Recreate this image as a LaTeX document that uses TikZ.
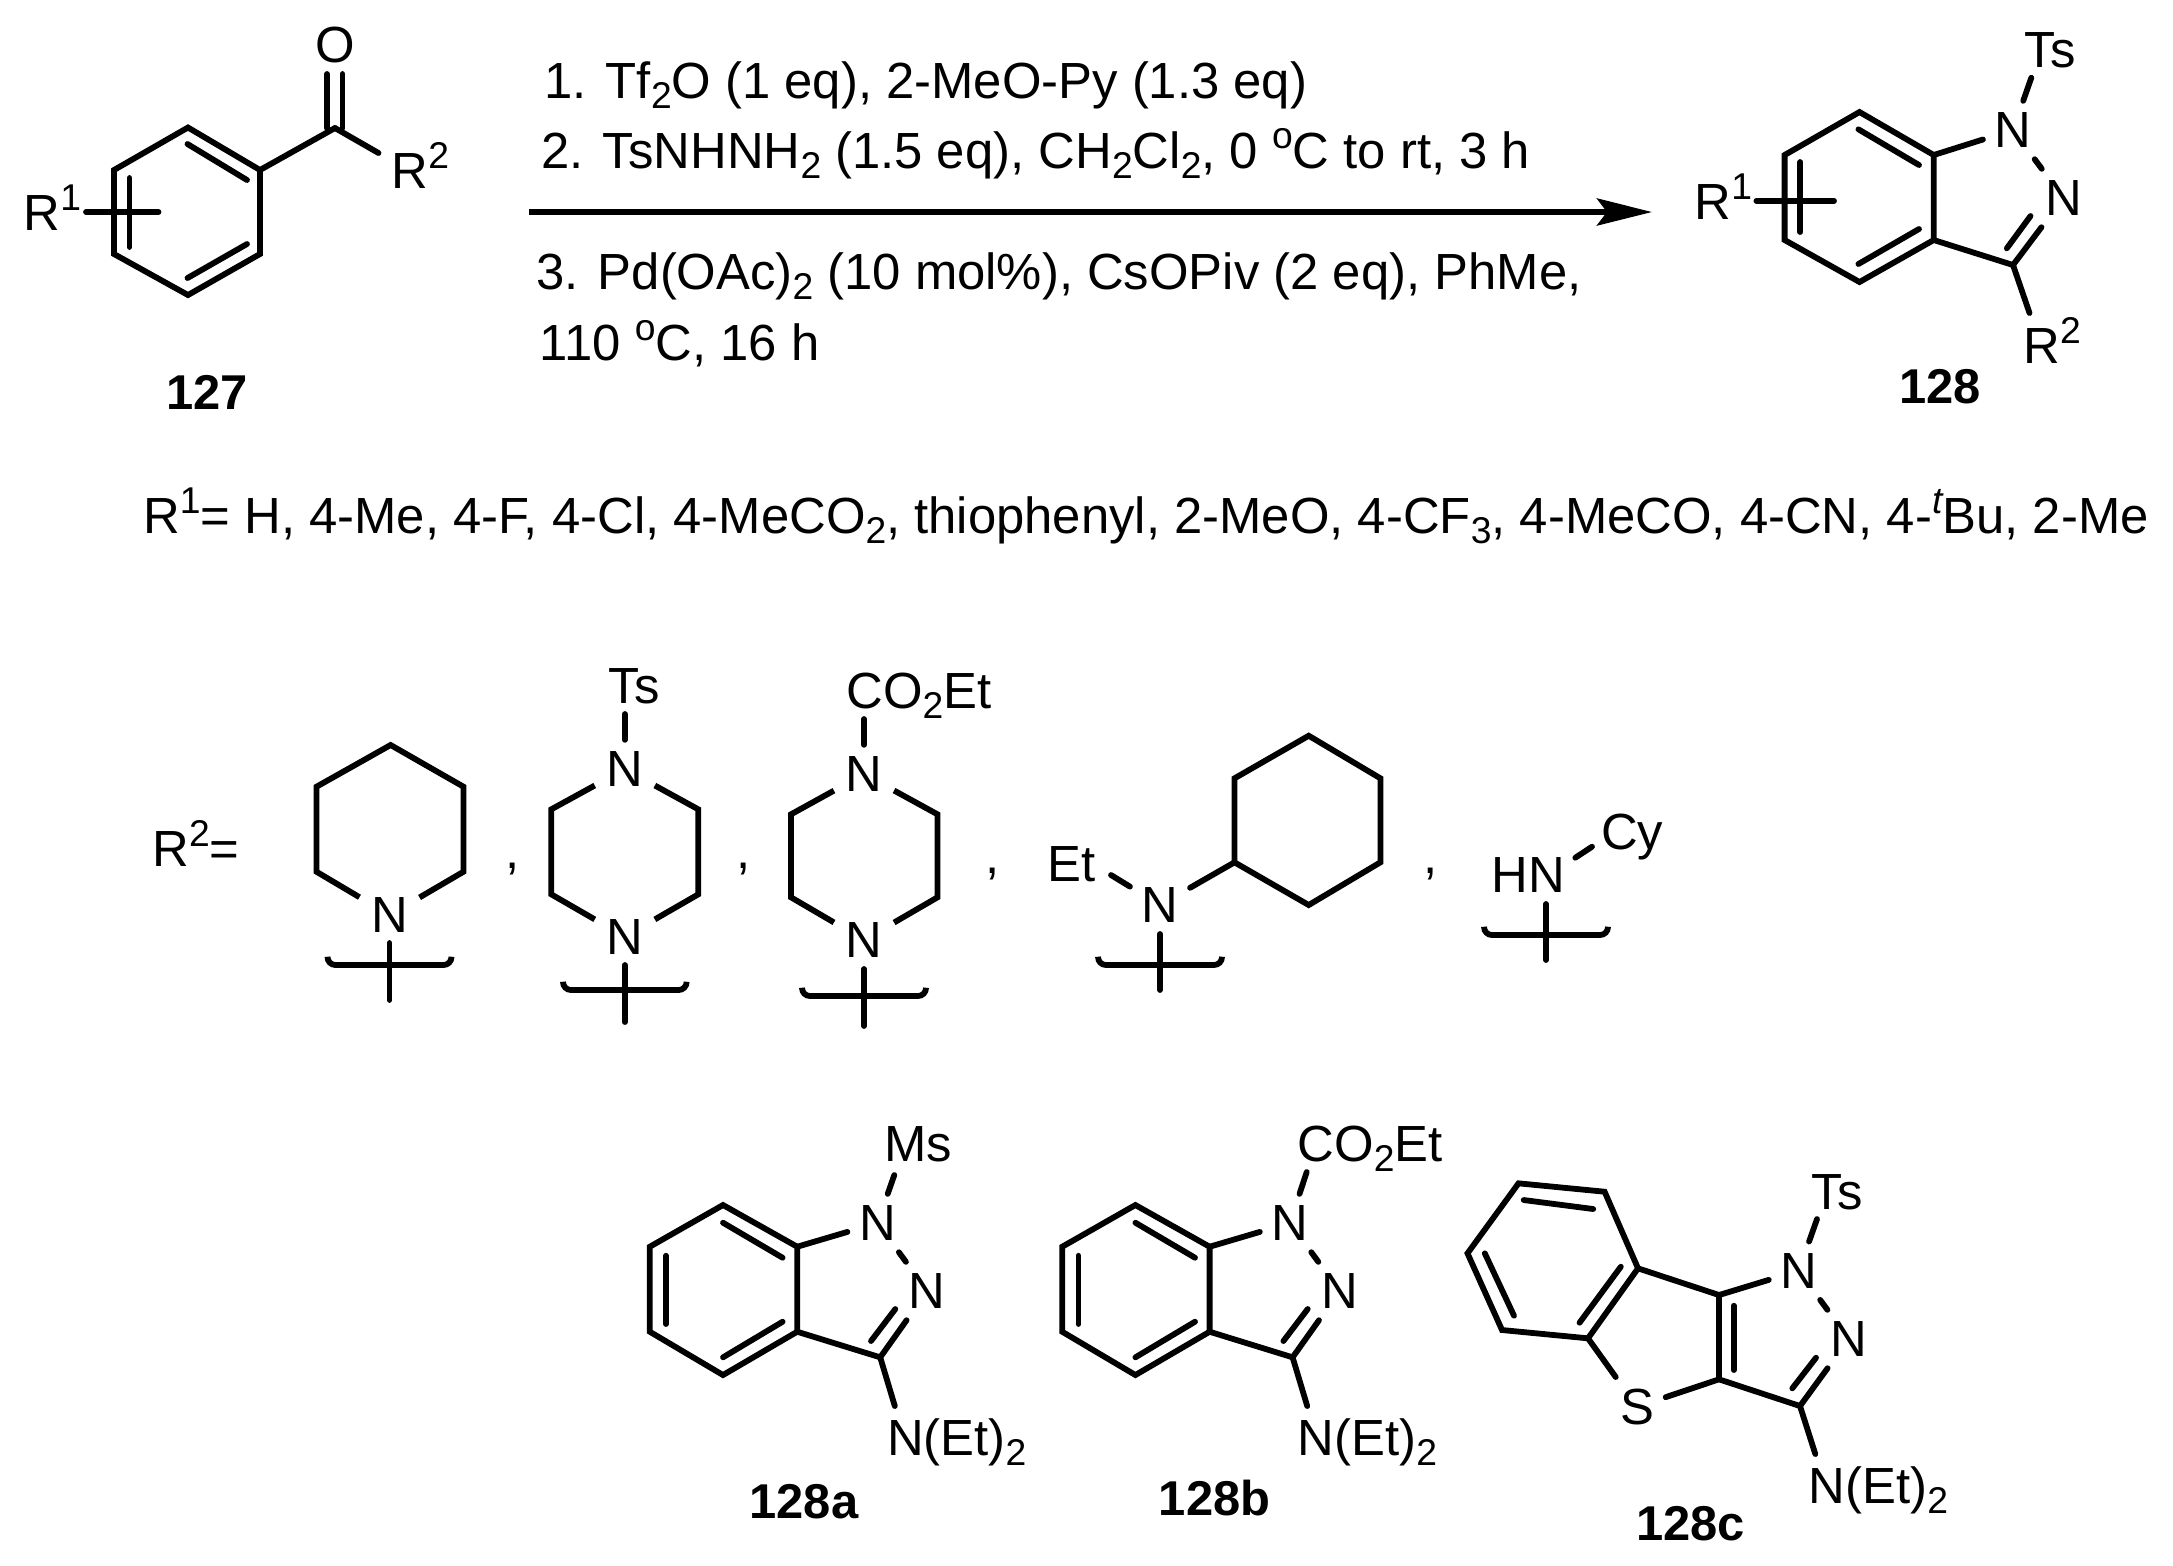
\documentclass[tikz,border=0pt]{standalone}
\usepackage{fontspec}
\setmainfont{Liberation Sans}
\usepackage{tikz}
\usetikzlibrary{arrows.meta}

\newcommand{\supr}[1]{\raisebox{0.2cm}{\fontsize{10.6}{10}\selectfont #1}}
\newcommand{\subr}[1]{\raisebox{-0.1cm}{\fontsize{10.6}{10}\selectfont #1}}

\begin{document}
\begin{tikzpicture}[
    x=0.01cm, y=-0.01cm,
    font=\fontsize{14.45}{16}\selectfont,
    bond/.style={line width=0.058cm, line join=miter, line cap=round},
    ringbond/.style={bond, line cap=butt},
    wavy/.style={bond, rounded corners=0.08cm},
    atom/.style={inner sep=0.11cm},
    chemtext/.style={inner sep=0pt, anchor=base west, xshift=-0.03cm},
    cmpd/.style={inner sep=0pt, font=\fontsize{13.9}{16}\selectfont\bfseries},
]
\useasboundingbox (0,0) rectangle (2173,1565);

% ── Ketone 127 ──
\coordinate (ka) at (188,127.5);
\coordinate (kb) at (260,170);
\coordinate (kc) at (260,254);
\coordinate (kd) at (188,295);
\coordinate (ke) at (114,254);
\coordinate (kf) at (114,170);
\coordinate (kco) at (335,128);
\draw[ringbond] (ka) -- (kb) -- (kc) -- (kd) -- (ke) -- (kf) -- cycle;
\coordinate (kab) at (187.5,144);
\coordinate (kab2) at (247,180);
\coordinate (kcd) at (247,244);
\coordinate (kcd2) at (187.5,278);
\draw[bond] (kab) -- (kab2);
\draw[bond] (kcd) -- (kcd2);
\coordinate (kef) at (129.5,178);
\coordinate (kef2) at (129.5,247);
\draw[bond] (kef) -- (kef2);
\coordinate (kr) at (86,212);
\coordinate (kr2) at (158.5,212);
\draw[bond] (kr) -- (kr2);
\draw[bond] (kb) -- (kco);
\coordinate (kcoa) at (327,128);
\coordinate (kcoa2) at (327,74);
\coordinate (kcob) at (342.5,128);
\coordinate (kcob2) at (342.5,74);
\draw[bond] (kcoa) -- (kcoa2);
\draw[bond] (kcob) -- (kcob2);
\coordinate (krtwo) at (378.5,153);
\draw[bond] (kco) -- (krtwo);
\node[inner sep=0pt] (koxy) at (335,45) {O};
\node[chemtext] (krtwolabel) at (394,188) {R\supr{2}};
\node[chemtext] (kronelabel) at (26,230) {R\supr{1}};
\node[cmpd] (lab127) at (207,392) {127};

% ── Reaction conditions ──
\node[chemtext] (stepone) at (547,98) {1. Tf\subr{2}O (1 eq), 2-MeO-Py (1.3 eq)};
\node[chemtext] (steptwo) at (544,168) {2. TsNHNH\subr{2} (1.5 eq), CH\subr{2}Cl\subr{2}, 0 \supr{o}C to rt, 3 h};
\node[chemtext] (stepthree) at (539,289) {3. Pd(OAc)\subr{2} (10 mol\%), CsOPiv (2 eq), PhMe,};
\node[chemtext] (stepfour) at (542,360) {110 \supr{o}C, 16 h};
\coordinate (arrowstart) at (529,212);
\coordinate (arrowend) at (1652,212);
\draw[-{Stealth[length=0.55cm,width=0.27cm,inset=0.1cm]}, line width=0.058cm] (arrowstart) -- (arrowend);

% ── Indazole 128 ──
\coordinate (ia) at (1859.5,112);
\coordinate (ib) at (1933.7,155);
\coordinate (ic) at (1933.7,240);
\coordinate (id) at (1859.5,282);
\coordinate (ie) at (1784.6,240);
\coordinate (if) at (1784.6,155);
\coordinate (ithree) at (2013,265);
\draw[ringbond] (ia) -- (ib) -- (ic) -- (id) -- (ie) -- (if) -- cycle;
\coordinate (iab) at (1858.4,129.3);
\coordinate (iab2) at (1919,165);
\coordinate (icd) at (1919,229);
\coordinate (icd2) at (1858.4,264);
\coordinate (ief) at (1800.3,162);
\coordinate (ief2) at (1800.3,232);
\draw[bond] (iab) -- (iab2);
\draw[bond] (icd) -- (icd2);
\draw[bond] (ief) -- (ief2);
\coordinate (ir) at (1756.4,200.7);
\coordinate (ir2) at (1834,200.7);
\draw[bond] (ir) -- (ir2);
\node[atom] (inone) at (2013,130) {N};
\node[atom] (intwo) at (2063.4,198) {N};
\draw[bond] (ib) -- (inone);
\draw[bond] (inone) -- (intwo);
\draw[bond] (ic) -- (ithree);
\draw[bond] (ithree) -- (intwo);
\coordinate (idb) at (2006.8,248.3);
\coordinate (idb2) at (2030.5,216);
\draw[bond] (idb) -- (idb2);
\coordinate (its) at (2031.3,77.7);
\draw[bond] (inone) -- (its);
\node[chemtext] (itslabel) at (2027,67.7) {Ts};
\coordinate (irtwo) at (2029.5,313);
\draw[bond] (ithree) -- (irtwo);
\node[chemtext] (irtwolabel) at (2025.8,363) {R\supr{2}};
\node[chemtext] (ironelabel) at (1697,219) {R\supr{1}};
\node[cmpd] (lab128) at (1940,387) {128};

% ── R1 list ──
\node[chemtext] (rone) at (145.5,533) {R\supr{1}= H, 4-Me, 4-F, 4-Cl, 4-MeCO\subr{2}, thiophenyl, 2-MeO, 4-CF\subr{3}, 4-MeCO, 4-CN, 4-\supr{\itshape t}Bu, 2-Me};

% ── R2 row ──
\node[chemtext] (rtwo) at (154.7,866) {R\supr{2}=};

% piperidine
\coordinate (pa) at (390.6,745);
\coordinate (pb) at (463.5,786.7);
\coordinate (pc) at (463.5,871.7);
\coordinate (pe) at (316.5,871.7);
\coordinate (pf) at (316.5,786.7);
\node[atom] (pn) at (389.5,915) {N};
\draw[ringbond] (pn) -- (pc) -- (pb) -- (pa) -- (pf) -- (pe) -- (pn);
\coordinate (ptop) at (389.5,943);
\coordinate (pbot) at (389.5,1000);
\coordinate (pl) at (327.5,957);
\coordinate (pm) at (389.5,965);
\coordinate (pr) at (451.5,957);
\draw[bond] (ptop) -- (pbot);
\draw[wavy] (pl) |- (pm) -| (pr);
\node[chemtext] (commaone) at (508,868) {,};

% N-Ts piperazine
\node[atom] (tsn) at (624.8,769) {N};
\node[atom] (tsm) at (624.8,936.7) {N};
\coordinate (tsb) at (698.3,809.3);
\coordinate (tsc) at (698.3,894.3);
\coordinate (tse) at (551.3,894.3);
\coordinate (tsf) at (551.3,809.3);
\draw[ringbond] (tsn) -- (tsb) -- (tsc) -- (tsm);
\draw[ringbond] (tsn) -- (tsf) -- (tse) -- (tsm);
\coordinate (tsup) at (624.8,714);
\draw[bond] (tsn) -- (tsup);
\node[chemtext] (tslabel) at (611,703) {Ts};
\coordinate (tstop) at (624.8,965);
\coordinate (tsbot) at (624.8,1022);
\coordinate (tsl) at (563,982);
\coordinate (tsh) at (624.8,990);
\coordinate (tsr) at (686.6,982);
\draw[bond] (tstop) -- (tsbot);
\draw[wavy] (tsl) |- (tsh) -| (tsr);
\node[chemtext] (commatwo) at (739,868) {,};

% N-CO2Et piperazine
\node[atom] (cen) at (864,774) {N};
\node[atom] (cem) at (864,940) {N};
\coordinate (ceb) at (937.5,814.3);
\coordinate (cec) at (937.5,897.3);
\coordinate (cee) at (791,897.3);
\coordinate (cef) at (791,814.3);
\draw[ringbond] (cen) -- (ceb) -- (cec) -- (cem);
\draw[ringbond] (cen) -- (cef) -- (cee) -- (cem);
\coordinate (ceup) at (864,719);
\draw[bond] (cen) -- (ceup);
\node[chemtext] (celabel) at (848.6,708) {CO\subr{2}Et};
\coordinate (cetop) at (864,969);
\coordinate (cebot) at (864,1026);
\coordinate (cel) at (802,988);
\coordinate (ceh) at (864,996);
\coordinate (cer) at (926,988);
\draw[bond] (cetop) -- (cebot);
\draw[wavy] (cel) |- (ceh) -| (cer);
\node[chemtext] (commathree) at (988,873) {,};

% N-ethyl cyclohexylamine
\node[atom] (etn) at (1160,905) {N};
\coordinate (cya) at (1308.7,735.7);
\coordinate (cyb) at (1380.4,778.3);
\coordinate (cyc) at (1380.4,862.3);
\coordinate (cyd) at (1308.7,905);
\coordinate (cye) at (1234.5,862.3);
\coordinate (cyf) at (1234.5,778.3);
\draw[ringbond] (cya) -- (cyb) -- (cyc) -- (cyd) -- (cye) -- (cyf) -- cycle;
\draw[bond] (etn) -- (cye);
\node[chemtext] (etlabel) at (1049.4,881) {Et};
\coordinate (etup) at (1111,875);
\draw[bond] (etn) -- (etup);
\coordinate (ettop) at (1160,934);
\coordinate (etbot) at (1160,990);
\coordinate (etl) at (1098,957);
\coordinate (eth) at (1160,965);
\coordinate (etr) at (1222,957);
\draw[bond] (ettop) -- (etbot);
\draw[wavy] (etl) |- (eth) -| (etr);
\node[chemtext] (commafour) at (1426,873) {,};

% HN-Cy
\node[chemtext] (hnlabel) at (1494,892) {HN};
\node[chemtext] (cylabel) at (1603.4,849) {Cy};
\coordinate (hna) at (1575.3,857.7);
\coordinate (hnb) at (1592,846.7);
\draw[bond] (hna) -- (hnb);
\coordinate (hntop) at (1546,904);
\coordinate (hnbot) at (1546,960);
\coordinate (hnl) at (1484,927);
\coordinate (hnh) at (1546,935);
\coordinate (hnr) at (1608,927);
\draw[bond] (hntop) -- (hnbot);
\draw[wavy] (hnl) |- (hnh) -| (hnr);

% ── Product 128a ──
\coordinate (aa) at (723,1205);
\coordinate (ab) at (797.2,1246.7);
\coordinate (ac) at (797.2,1331.7);
\coordinate (ad) at (723,1375);
\coordinate (ae) at (649.8,1331.7);
\coordinate (af) at (649.8,1246.7);
\coordinate (athree) at (880.2,1357.3);
\draw[ringbond] (aa) -- (ab) -- (ac) -- (ad) -- (ae) -- (af) -- cycle;
\coordinate (aab) at (723,1222.7);
\coordinate (aab2) at (782.6,1257.7);
\coordinate (acd) at (782.6,1321.7);
\coordinate (acd2) at (723,1357.3);
\coordinate (aef) at (666,1255.7);
\coordinate (aef2) at (666,1324);
\draw[bond] (aab) -- (aab2);
\draw[bond] (acd) -- (acd2);
\draw[bond] (aef) -- (aef2);
\node[atom] (anone) at (877.5,1223) {N};
\node[atom] (antwo) at (927.3,1291) {N};
\draw[bond] (ab) -- (anone);
\draw[bond] (anone) -- (antwo);
\draw[bond] (ac) -- (athree);
\draw[bond] (athree) -- (antwo);
\coordinate (adb) at (871,1341);
\coordinate (adb2) at (895.3,1309);
\draw[bond] (adb) -- (adb2);
\coordinate (ams) at (894.3,1175);
\draw[bond] (anone) -- (ams);
\node[chemtext] (amslabel) at (886.7,1161.7) {Ms};
\coordinate (aam) at (894.8,1406);
\draw[bond] (athree) -- (aam);
\node[chemtext] (aamlabel) at (889.4,1455) {N(Et)\subr{2}};
\node[cmpd] (lab128a) at (804,1501.7) {128a};

% ── Product 128b ──
\coordinate (ba) at (1135.4,1205);
\coordinate (bb) at (1209.6,1246.7);
\coordinate (bc) at (1209.6,1331.7);
\coordinate (bd) at (1135.4,1375);
\coordinate (be) at (1062.2,1331.7);
\coordinate (bf) at (1062.2,1246.7);
\coordinate (bthree) at (1292.6,1357.3);
\draw[ringbond] (ba) -- (bb) -- (bc) -- (bd) -- (be) -- (bf) -- cycle;
\coordinate (bab) at (1135.4,1222.7);
\coordinate (bab2) at (1195,1257.7);
\coordinate (bcd) at (1195,1321.7);
\coordinate (bcd2) at (1135.4,1357.3);
\coordinate (bef) at (1078.4,1255.7);
\coordinate (bef2) at (1078.4,1324);
\draw[bond] (bab) -- (bab2);
\draw[bond] (bcd) -- (bcd2);
\draw[bond] (bef) -- (bef2);
\node[atom] (bnone) at (1289.9,1223) {N};
\node[atom] (bntwo) at (1339.7,1291) {N};
\draw[bond] (bb) -- (bnone);
\draw[bond] (bnone) -- (bntwo);
\draw[bond] (bc) -- (bthree);
\draw[bond] (bthree) -- (bntwo);
\coordinate (bdb) at (1283.4,1341);
\coordinate (bdb2) at (1307.7,1309);
\draw[bond] (bdb) -- (bdb2);
\coordinate (bce) at (1306.7,1172);
\draw[bond] (bnone) -- (bce);
\node[chemtext] (bcelabel) at (1300,1161.7) {CO\subr{2}Et};
\coordinate (bam) at (1307.2,1406);
\draw[bond] (bthree) -- (bam);
\node[chemtext] (bamlabel) at (1300,1455) {N(Et)\subr{2}};
\node[cmpd] (lab128b) at (1214.6,1498) {128b};

% ── Product 128c ──
\coordinate (ca) at (1518.5,1183.3);
\coordinate (cb) at (1604.6,1191.7);
\coordinate (cc) at (1638,1268.3);
\coordinate (cd) at (1588,1338.3);
\coordinate (ce) at (1502,1330);
\coordinate (cf) at (1467.5,1253.3);
\coordinate (cg) at (1719,1295);
\coordinate (ch) at (1719,1379.3);
\coordinate (cthree) at (1800,1406);
\draw[ringbond] (ca) -- (cb) -- (cc) -- (cd) -- (ce) -- (cf) -- cycle;
\coordinate (cab) at (1523.7,1200);
\coordinate (cab2) at (1593.2,1209);
\coordinate (cef) at (1484.8,1253.3);
\coordinate (cef2) at (1514,1315.7);
\coordinate (ccd) at (1579.5,1322.7);
\coordinate (ccd2) at (1620.8,1266.7);
\draw[bond] (cab) -- (cab2);
\draw[bond] (cef) -- (cef2);
\draw[bond] (ccd) -- (ccd2);
\draw[ringbond] (cc) -- (cg);
\draw[ringbond] (cg) -- (ch);
\coordinate (cgh) at (1733.7,1305.7);
\coordinate (cgh2) at (1733.7,1370);
\draw[bond] (cgh) -- (cgh2);
\node[atom] (csul) at (1637,1406.7) {S};
\draw[bond] (cd) -- (csul);
\draw[bond] (ch) -- (csul);
\node[atom] (cnone) at (1798.8,1270.7) {N};
\node[atom] (cntwo) at (1848.8,1339) {N};
\draw[bond] (cg) -- (cnone);
\draw[bond] (cnone) -- (cntwo);
\draw[bond] (ch) -- (cthree);
\draw[bond] (cthree) -- (cntwo);
\coordinate (cdb) at (1792.3,1388.3);
\coordinate (cdb2) at (1816,1357.7);
\draw[bond] (cdb) -- (cdb2);
\coordinate (cts) at (1817,1219);
\draw[bond] (cnone) -- (cts);
\node[chemtext] (ctslabel) at (1814,1209.3) {Ts};
\coordinate (cam) at (1815.3,1454);
\draw[bond] (cthree) -- (cam);
\node[chemtext] (camlabel) at (1811,1503.3) {N(Et)\subr{2}};
\node[cmpd] (lab128c) at (1690.7,1523.3) {128c};

\end{tikzpicture}
\end{document}
